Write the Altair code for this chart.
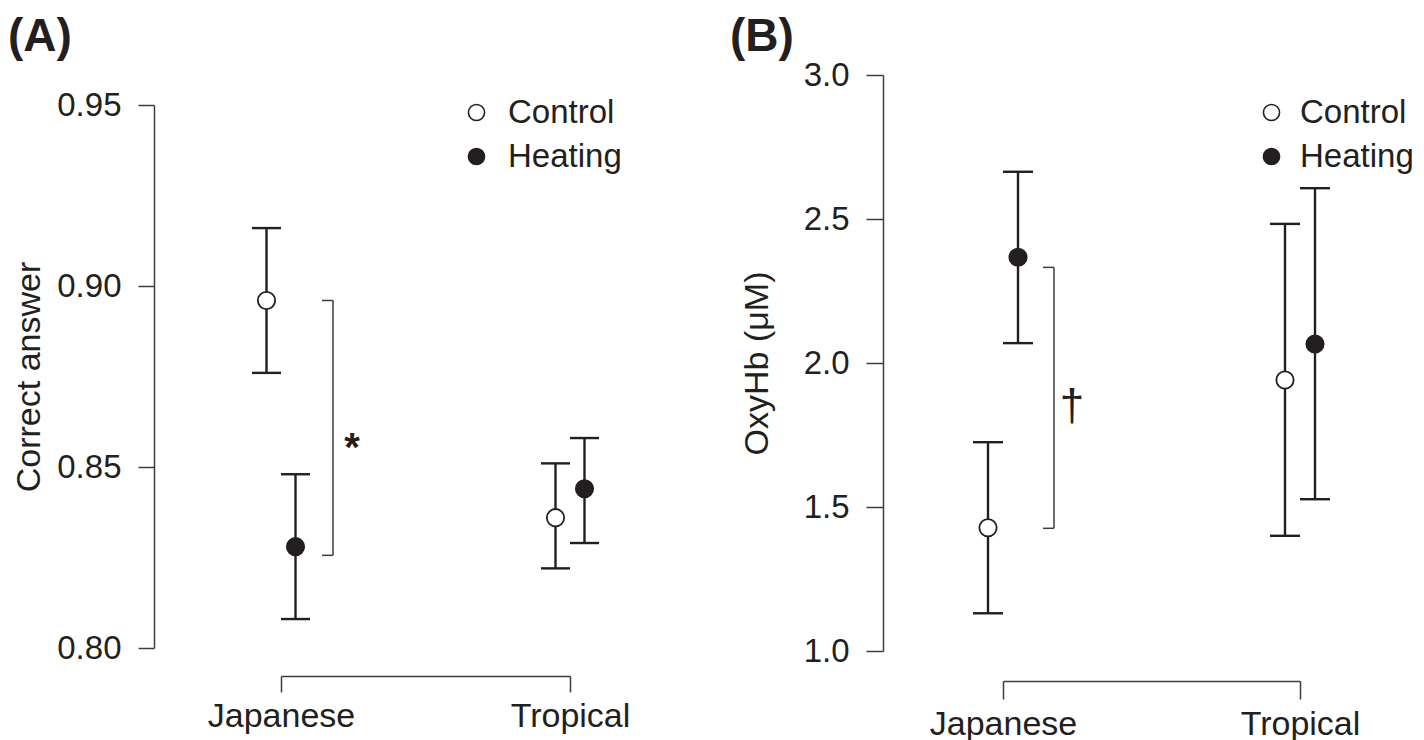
import altair as alt
import pandas as pd

groups = ["Japanese", "Tropical"]
conditions = ["Control", "Heating"]
panel_labels = ["(A)", "(B)"]

# Panel A: proportion of correct answers (mean, lower, upper)
a_control_mean = [0.896, 0.836]
a_control_low = [0.876, 0.822]
a_control_high = [0.916, 0.851]
a_heating_mean = [0.828, 0.844]
a_heating_low = [0.808, 0.829]
a_heating_high = [0.848, 0.858]
a_ticks = [0.80, 0.85, 0.90, 0.95]
a_title = "Correct answer"
a_sig_ends = [0.896, 0.8256]
a_sig_mark = "*"

# Panel B: OxyHb (µM)
b_control_mean = [1.428, 1.941]
b_control_low = [1.131, 1.400]
b_control_high = [1.725, 2.483]
b_heating_mean = [2.367, 2.066]
b_heating_low = [2.069, 1.527]
b_heating_high = [2.664, 2.607]
b_ticks = [1.0, 1.5, 2.0, 2.5, 3.0]
b_title = "OxyHb (μM)"
b_sig_ends = [2.332, 1.426]
b_sig_mark = "†"

INK = "#231f20"
AXIS = "#3d3d3d"
FONT = "Liberation Sans"
H = 732
W = 1408


def make_df(cm, cl, ch, hm, hl, hh):
    rows = []
    for i, g in enumerate(groups):
        rows.append(dict(gx=i, group=g, condition=conditions[0], mean=cm[i], low=cl[i], high=ch[i]))
        rows.append(dict(gx=i, group=g, condition=conditions[1], mean=hm[i], low=hl[i], high=hh[i]))
    return pd.DataFrame(rows)


def make_sig(ends, mark):
    return pd.DataFrame([dict(gx=0, top=ends[0], bot=ends[1], mid=(ends[0] + ends[1]) / 2, label=mark)])


def panel(df, sig, lay):
    xscale = alt.Scale(domain=[0, 1], range=lay["xrange"], nice=False, zero=False)
    yscale = alt.Scale(domain=lay["ydomain"], range=lay["yrange"], nice=False, zero=False)
    label_expr = "[" + ",".join("'" + g + "'" for g in groups) + "][datum.value]"
    xaxis = alt.Axis(
        values=[0, 1], labelExpr=label_expr, orient="bottom", offset=lay["xoff"],
        tickSize=lay["xtick"], tickWidth=1.5, tickColor=AXIS, domainColor=AXIS, domainWidth=1.5,
        labelFont=FONT, labelFontSize=34, labelColor=INK, labelPadding=lay["xpad"],
        labelFlush=False, labelOverlap=False, grid=False,
    )
    yaxis = alt.Axis(
        values=lay["ticks"], format=lay["fmt"], orient="left", offset=lay["yoff"],
        tickSize=lay["ytick"], tickWidth=1.5, tickColor=AXIS, domainColor=AXIS, domainWidth=1.5,
        labelFont=FONT, labelFontSize=33, labelColor=INK, labelPadding=lay["ypad"],
        labelFlush=False, labelOverlap=False, grid=False,
        title=lay["title"], titleFont=FONT, titleFontSize=34, titleFontWeight="normal",
        titleColor=INK, titleAngle=270, titleAlign="center", titleBaseline="alphabetic",
        titleX=lay["titleX"], titleY=lay["titleY"],
    )

    def X(f):
        return alt.X(f, type="quantitative", scale=xscale, axis=xaxis, title=None)

    def Y(f):
        return alt.Y(f, type="quantitative", scale=yscale, axis=yaxis)

    fill_scale = alt.Scale(domain=conditions, range=["white", INK])
    legend = alt.Legend(
        title=None, orient="none", legendX=lay["legX"], legendY=lay["legY"], direction="vertical",
        symbolType="circle", symbolSize=260, symbolStrokeColor=INK, symbolStrokeWidth=1.6,
        symbolOpacity=1, labelFont=FONT, labelFontSize=33, labelColor=INK,
        labelOffset=lay["legOff"], rowPadding=10, padding=0,
    )

    layers = []
    cap = lay["cap"]
    for cond, dx in zip(conditions, lay["dodge"]):
        base = alt.Chart().transform_filter(alt.datum.condition == cond)
        layers.append(base.mark_rule(xOffset=dx, strokeWidth=2.4, color=INK).encode(
            x=X("gx"), y=Y("low"), y2=alt.Y2("high")))
        layers.append(base.mark_rule(xOffset=dx - cap, x2Offset=dx + cap, strokeWidth=2.4, color=INK).encode(
            x=X("gx"), x2=alt.X2("gx"), y=Y("high")))
        layers.append(base.mark_rule(xOffset=dx - cap, x2Offset=dx + cap, strokeWidth=2.4, color=INK).encode(
            x=X("gx"), x2=alt.X2("gx"), y=Y("low")))
    for cond, dx in zip(conditions, lay["dodge"]):
        base = alt.Chart().transform_filter(alt.datum.condition == cond)
        layers.append(base.mark_point(shape="circle", filled=True, size=300, xOffset=dx, stroke=INK,
                                      strokeWidth=1.8, opacity=1).encode(
            x=X("gx"), y=Y("mean"), fill=alt.Fill("condition:N", scale=fill_scale, legend=legend)))

    sx = lay["sigx"]
    sb = alt.Chart(sig)
    layers.append(sb.mark_rule(xOffset=sx, strokeWidth=1.5, color=AXIS).encode(
        x=X("gx"), y=Y("top"), y2=alt.Y2("bot")))
    layers.append(sb.mark_rule(xOffset=sx - 11, x2Offset=sx, strokeWidth=1.5, color=AXIS).encode(
        x=X("gx"), x2=alt.X2("gx"), y=Y("top")))
    layers.append(sb.mark_rule(xOffset=sx - 11, x2Offset=sx, strokeWidth=1.5, color=AXIS).encode(
        x=X("gx"), x2=alt.X2("gx"), y=Y("bot")))
    layers.append(sb.mark_text(xOffset=lay["sigtx"], dy=lay["sigdy"], font=FONT, fontSize=lay["sigfs"],
                               fontWeight=lay["sigfw"], color=INK, align="center", baseline="alphabetic").encode(
        x=X("gx"), y=Y("mid"), text="label:N"))
    return alt.layer(*layers, data=df)


lay_a = dict(
    xrange=[273, 562], yrange=[640, 97], ydomain=[0.80, 0.95], ticks=a_ticks, fmt=".2f",
    yoff=-146, xoff=668 - H, xtick=16, ytick=16, ypad=17, xpad=7,
    title=a_title, titleX=-115, titleY=368.5,
    legX=452, legY=88, legOff=15, dodge=[-14.5, 14.5], cap=14.5,
    sigx=52, sigtx=71, sigdy=33, sigfs=40, sigfw="bold",
)
lay_b = dict(
    xrange=[995, 1292], yrange=[643, 67], ydomain=[1.0, 3.0], ticks=b_ticks, fmt=".1f",
    yoff=-875, xoff=673 - H, xtick=18, ytick=17, ypad=17, xpad=8,
    title=b_title, titleX=-116, titleY=355,
    legX=1247, legY=88, legOff=12, dodge=[-15, 15], cap=15,
    sigx=51, sigtx=69, sigdy=22, sigfs=44, sigfw="normal",
)

panel_a = panel(make_df(a_control_mean, a_control_low, a_control_high,
                        a_heating_mean, a_heating_low, a_heating_high),
                make_sig(a_sig_ends, a_sig_mark), lay_a)
panel_b = panel(make_df(b_control_mean, b_control_low, b_control_high,
                        b_heating_mean, b_heating_low, b_heating_high),
                make_sig(b_sig_ends, b_sig_mark), lay_b)

title_df_a = pd.DataFrame({"label": [panel_labels[0]]})
title_df_b = pd.DataFrame({"label": [panel_labels[1]]})
title_a = alt.Chart(title_df_a).mark_text(align="left", baseline="alphabetic", font=FONT,
                                          fontWeight="bold", fontSize=46, color=INK).encode(
    x=alt.value(0), y=alt.value(43), text="label:N")
title_b = alt.Chart(title_df_b).mark_text(align="left", baseline="alphabetic", font=FONT,
                                          fontWeight="bold", fontSize=46, color=INK).encode(
    x=alt.value(722), y=alt.value(43), text="label:N")

chart = alt.layer(panel_a, panel_b, title_a, title_b).resolve_scale(
    x="independent", y="independent", fill="independent"
).properties(
    width=W, height=H, padding=0, autosize=alt.AutoSizeParams(type="none")
).configure_view(stroke=None)

chart.save("out.html", embed_options={"renderer": "svg", "actions": False})
